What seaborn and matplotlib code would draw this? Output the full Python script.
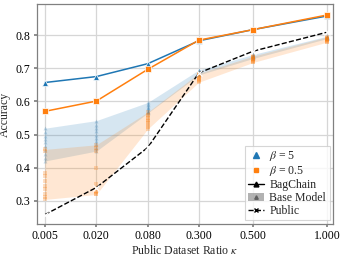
import numpy as np
import pandas as pd
import matplotlib
matplotlib.use("Agg")
import matplotlib.pyplot as plt
import seaborn as sns
from matplotlib.lines import Line2D
from matplotlib.patches import Patch

# ---- data ----
kappa_labels = ["0.005", "0.020", "0.080", "0.300", "0.500", "1.000"]
kappa = [0.005, 0.02, 0.08, 0.3, 0.5, 1.0]

bagchain_beta5 = [0.657, 0.675, 0.714, 0.783, 0.817, 0.858]
bagchain_beta05 = [0.570, 0.601, 0.697, 0.785, 0.817, 0.861]
public = [0.258, 0.340, 0.461, 0.686, 0.752, 0.809]

base_beta5 = {
    0.005: [0.519, 0.508, 0.497, 0.486, 0.476, 0.466, 0.452, 0.441, 0.430, 0.420],
    0.02:  [0.542, 0.530, 0.520, 0.510, 0.500, 0.490, 0.480, 0.470, 0.460, 0.450],
    0.08:  [0.597, 0.592, 0.588, 0.584, 0.580, 0.576, 0.572, 0.569, 0.567, 0.565],
    0.3:   [0.695, 0.694, 0.692, 0.690, 0.689, 0.687, 0.686, 0.684, 0.682, 0.680],
    0.5:   [0.742, 0.740, 0.738, 0.737, 0.736, 0.735, 0.734, 0.733, 0.732, 0.730],
    1.0:   [0.797, 0.796, 0.795, 0.794, 0.794, 0.793, 0.792, 0.791, 0.790, 0.790],
}
base_beta05 = {
    0.005: [0.455, 0.450, 0.385, 0.375, 0.360, 0.345, 0.335, 0.320, 0.310, 0.304],
    0.02:  [0.469, 0.460, 0.450, 0.400, 0.350, 0.340, 0.330, 0.325, 0.320, 0.319],
    0.08:  [0.568, 0.560, 0.555, 0.550, 0.545, 0.540, 0.535, 0.530, 0.522, 0.517],
    0.3:   [0.685, 0.682, 0.679, 0.676, 0.673, 0.670, 0.667, 0.664, 0.661, 0.658],
    0.5:   [0.737, 0.735, 0.733, 0.731, 0.729, 0.727, 0.725, 0.722, 0.720, 0.718],
    1.0:   [0.795, 0.793, 0.791, 0.789, 0.787, 0.785, 0.784, 0.782, 0.780, 0.779],
}

# ---- layout (x positions of categories on the axis) ----
x_pos = [0.0, 1.0, 2.0, 2.99, 4.05, 5.48]
pos_of = dict(zip(kappa, x_pos))

C0 = "#1f77b4"
C1 = "#ff7f0e"

sns.set_theme(style="whitegrid")
plt.rcParams["font.family"] = ["Liberation Serif", "DejaVu Serif"]
plt.rcParams["mathtext.fontset"] = "stix"
plt.rcParams.update({
    "axes.edgecolor": "#808080",
    "axes.linewidth": 0.9,
    "grid.color": "#d6d6d6",
    "grid.linewidth": 0.9,
    "xtick.bottom": True,
    "ytick.left": True,
    "xtick.major.size": 2.5,
    "ytick.major.size": 2.5,
    "xtick.color": "#808080",
    "ytick.color": "#808080",
    "xtick.labelcolor": "black",
    "ytick.labelcolor": "black",
})

fig = plt.figure(figsize=(3.45, 2.58), dpi=100)
ax = fig.add_axes([0.106, 0.132, 0.860, 0.851])

def to_df(d):
    rows = []
    for k, vals in d.items():
        for v in vals:
            rows.append({"x": pos_of[k], "acc": v})
    return pd.DataFrame(rows)

for d, col, mk in [(base_beta5, C0, "^"), (base_beta05, C1, "s")]:
    df = to_df(d)
    sns.lineplot(data=df, x="x", y="acc", errorbar=("pi", 100), color=col,
                 lw=0, err_kws={"alpha": 0.18, "linewidth": 0}, ax=ax)
    sns.scatterplot(data=df, x="x", y="acc", color=col, marker=mk, s=8,
                    alpha=0.25, linewidth=0, ax=ax)

sns.lineplot(x=x_pos, y=bagchain_beta5, color=C0, marker="^", markersize=4.5,
             lw=1.1, markeredgewidth=0.5, ax=ax)
sns.lineplot(x=x_pos, y=bagchain_beta05, color=C1, marker="s", markersize=4,
             lw=1.1, markeredgewidth=0.5, ax=ax)
sns.lineplot(x=x_pos, y=public, color="black", marker="x", markersize=4,
             lw=1.0, linestyle="--", markeredgewidth=0.9, ax=ax)

ax.set_xticks(x_pos)
ax.set_xticklabels(kappa_labels)
ax.set_yticks([0.3, 0.4, 0.5, 0.6, 0.7, 0.8])
ax.set_xlim(-0.16, 5.6)
ax.set_ylim(0.23, 0.893)
ax.tick_params(labelsize=8.5, pad=2)
ax.set_xlabel(r"Public Dataset Ratio $\kappa$", fontsize=8.5, labelpad=1)
ax.set_ylabel("Accuracy", fontsize=8.5, labelpad=3)

handles = [
    Line2D([], [], color=C0, marker="^", linestyle="None", markersize=4),
    Line2D([], [], color=C1, marker="s", linestyle="None", markersize=3.5),
    Line2D([], [], color="black", marker="^", lw=1.0, markersize=3.5),
    (Patch(facecolor="#808080", alpha=0.6, edgecolor="none"),
     Line2D([], [], color="#606060", marker="^", linestyle="None", markersize=2.5)),
    Line2D([], [], color="black", marker="x", lw=1.0, linestyle="--", markersize=3.5),
]
labels = [r"$\beta$ = 5", r"$\beta$ = 0.5", "BagChain", "Base Model", "Public"]
leg = ax.legend(handles, labels, loc="lower right", fontsize=8.5,
                handlelength=1.3, handletextpad=0.5, labelspacing=0.08,
                borderpad=0.3, borderaxespad=0.3, frameon=True, fancybox=False)
leg.get_frame().set_edgecolor("#cccccc")
leg.get_frame().set_linewidth(0.8)

fig.savefig("out.png", dpi=100)
